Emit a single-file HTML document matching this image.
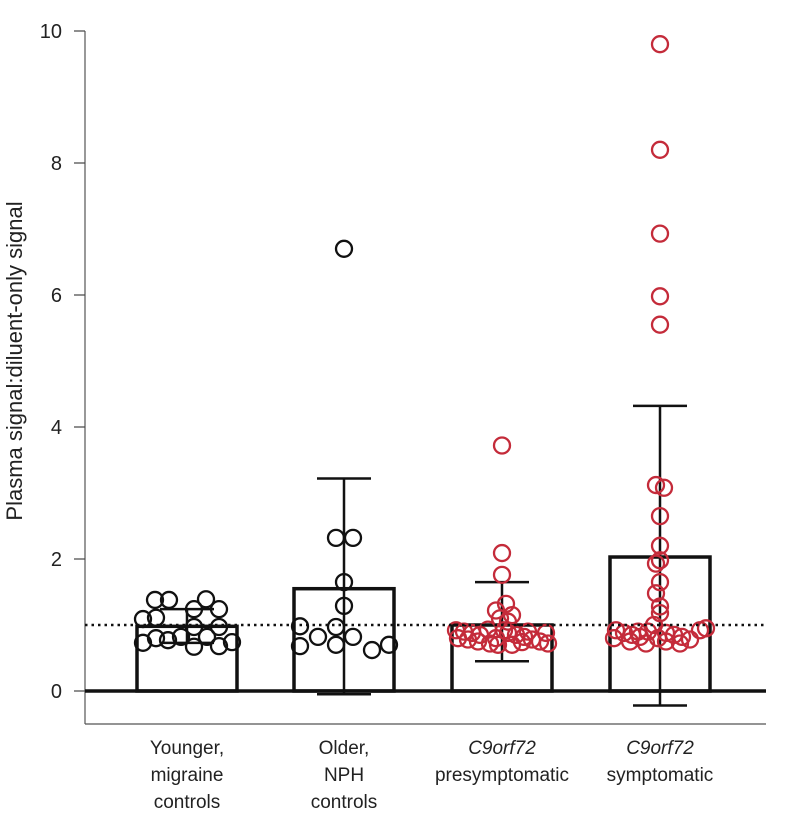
<!DOCTYPE html>
<html><head><meta charset="utf-8"><style>
body{margin:0;background:#fff}
svg text{font-family:"Liberation Sans",sans-serif;fill:#222}
</style></head><body>
<svg width="786" height="817" xmlns="http://www.w3.org/2000/svg">
<g id="root"></g>
</svg>
<script>
const categories=["Younger","Older","C9orf72 presymptomatic","C9orf72 symptomatic"];
const means=[0.98,1.55,1.0,2.03];
const errLow=[0.73,-0.05,0.45,-0.22];
const errHigh=[1.24,3.22,1.65,4.32];
const yTicks=[0,2,4,6,8,10];
const refLine=1.0;
const g1Vals=[1.38,1.38,1.39,1.09,1.11,1.24,1.24,0.97,0.97,0.73,0.80,0.77,0.82,0.67,0.82,0.68,0.74];
const g1Jit=[-32,-18,19,-44,-31,7,32,7,32,-44,-31,-19,-6,7,20,32,45];
const g2Vals=[6.7,2.32,2.32,1.65,1.29,0.98,0.97,0.68,0.82,0.70,0.82,0.62,0.70];
const g2Jit=[0,-8,9,0,0,-44,-8,-44,-26,-8,9,28,45];
const g3Vals=[3.72,2.09,1.76,1.32,1.22,1.15,1.10,1.05,0.92,0.90,0.88,0.85,0.93,0.80,0.78,0.75,0.72,0.70,0.88,0.85,0.82,0.78,0.75,0.72,0.70,0.90,0.88,0.80,0.74,0.92];
const g3Jit=[0,0,0,4,-6,10,-2,6,-46,-38,-30,-22,-14,-44,-34,-24,-12,-4,6,14,22,30,38,46,10,26,44,-6,20,2];
const g4Vals=[9.8,8.2,6.93,5.98,5.55,3.12,3.08,2.65,2.2,1.98,1.93,1.65,1.48,1.28,1.18,1.0,0.92,0.88,0.85,0.82,0.90,0.80,0.75,0.72,0.88,0.85,0.82,0.78,0.92,0.75,0.72,0.80,0.95,0.9];
const g4Jit=[0,0,0,0,0,-4,4,0,0,0,-4,0,-4,0,0,-6,-44,-36,-28,-20,-12,-46,-30,-14,6,14,22,30,40,6,20,-2,46,-22];
const pts=[[g1Vals,g1Jit],[g2Vals,g2Jit],[g3Vals,g3Jit],[g4Vals,g4Jit]];
const centers=[187,344,502,660];
const colors=["#111","#111","#c42b3a","#c42b3a"];
const y=v=>691-v*66;
const NS="http://www.w3.org/2000/svg";
const root=document.getElementById('root');
function mk(t,a,n){const e=document.createElementNS(NS,t);for(const k in a)e.setAttribute(k,a[k]);


root.appendChild(e);return e;}
mk('line',{x1:85,y1:31,x2:85,y2:724,stroke:'#555','stroke-width':1.2},'y-axis');
mk('line',{x1:85,y1:724,x2:766,y2:724,stroke:'#555','stroke-width':1.2},'x-axis');
yTicks.forEach(t=>{mk('line',{x1:74,y1:y(t),x2:85,y2:y(t),stroke:'#444','stroke-width':1.2},'y-tick');
const tx=mk('text',{x:62,y:y(t)+7,'text-anchor':'end','font-size':20},'y-tick-label');tx.textContent=t;});
const yl=mk('text',{x:22,y:361,'text-anchor':'middle','font-size':22,transform:'rotate(-90 22 361)'},'y-axis-title');yl.textContent='Plasma signal:diluent-only signal';
categories.forEach((c,i)=>{const cx=centers[i];
mk('rect',{x:cx-50,y:y(means[i]),width:100,height:y(0)-y(means[i]),fill:'none',stroke:'#111','stroke-width':3.5},'bar-'+(i+1));
mk('line',{x1:cx,y1:y(errLow[i]),x2:cx,y2:y(errHigh[i]),stroke:'#111','stroke-width':2.5},'error-bar');
mk('line',{x1:cx-27,y1:y(errLow[i]),x2:cx+27,y2:y(errLow[i]),stroke:'#111','stroke-width':2.5},'error-cap-low');
mk('line',{x1:cx-27,y1:y(errHigh[i]),x2:cx+27,y2:y(errHigh[i]),stroke:'#111','stroke-width':2.5},'error-cap-high');
const [vals,jit]=pts[i];
vals.forEach((v,j)=>mk('circle',{cx:cx+jit[j],cy:y(v),r:8,fill:'none',stroke:colors[i],'stroke-width':2.3},'data-point'));
});
mk('line',{x1:85,y1:y(0),x2:766,y2:y(0),stroke:'#111','stroke-width':3.5},'zero-line');
mk('line',{x1:85,y1:y(refLine),x2:766,y2:y(refLine),stroke:'#111','stroke-width':2.5,'stroke-dasharray':'2.5 4'},'reference-line');
const labels=[[["Younger,",0],["migraine",0],["controls",0]],[["Older,",0],["NPH",0],["controls",0]],[["C9orf72",1],["presymptomatic",0]],[["C9orf72",1],["symptomatic",0]]];
labels.forEach((ls,i)=>ls.forEach((l,k)=>{const t=mk('text',{x:centers[i],y:754+k*27,'text-anchor':'middle','font-size':19,'font-style':l[1]?'italic':'normal'},'x-tick-label');t.textContent=l[0];}));
</script>
</body></html>
